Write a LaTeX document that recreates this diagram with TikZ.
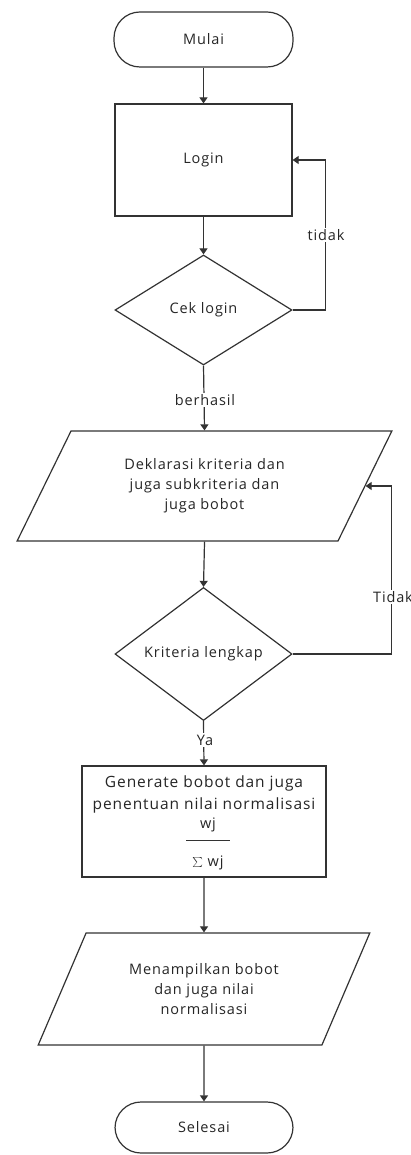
\documentclass[tikz,border=0pt]{standalone}
\usepackage{fontspec}
\setmainfont[LetterSpace=6]{Open Sans}
\usetikzlibrary{shapes.geometric,arrows.meta}
\definecolor{ln}{HTML}{333333}
\definecolor{tx}{HTML}{262626}
\begin{document}
\begin{tikzpicture}[x=1pt,y=-1pt,
  every node/.style={font=\fontsize{14.5}{20}\selectfont,text=tx},
  big/.style={font=\fontsize{15.5}{22}\selectfont},
  box/.style={draw=ln,line width=1.2pt,inner sep=0pt},
  term/.style={box,rounded corners=26pt},
  rectbox/.style={box},
  dia/.style={box,diamond,minimum width=177pt,minimum height=110pt},
  io/.style={box,trapezium,trapezium stretches=true,trapezium left angle=59.3,trapezium right angle=120.7,align=center},
  lbl/.style={fill=white,inner sep=1.5pt},
  arr/.style={draw=ln,line width=1.2pt,-{Triangle[width=8pt,length=6pt]}}
]
\useasboundingbox (0,0) rectangle (411,1155);
\fill[white] (0,0) rectangle (411,1155);
\node[term,minimum width=179pt,minimum height=55pt] (mulai) at (203.5,39.5) {Mulai};
\node[rectbox,minimum width=177pt,minimum height=112pt] (login) at (203.5,160) {Login};
\node[dia] (cek) at (203.5,310) {Cek login};
\node[io,minimum width=375pt,minimum height=110pt] (dekl) at (204.5,486) {Deklarasi kriteria dan\\juga subkriteria dan\\juga bobot};
\node[dia] (krit) at (203.5,654) {Kriteria lengkap};
\node[rectbox,minimum width=244pt,minimum height=111pt] (gen) at (204,821.5) {};
\node[big] (g1) at (204,783) {Generate bobot dan juga};
\node[big] (g2) at (204,805) {penentuan nilai normalisasi};
\node (g3) at (208,825) {wj};
\coordinate (fl) at (186,840);
\coordinate (fr) at (230,840);
\draw[ln,line width=0.9pt] (fl) -- (fr);
\node (g4) at (208,863) {$\sum$ wj};
\node[io,minimum width=332pt,minimum height=112pt] (tampil) at (204,989) {Menampilkan bobot\\dan juga nilai\\normalisasi};
\node[term,minimum width=178pt,minimum height=51pt] (selesai) at (204,1127.5) {Selesai};

\draw[arr] (mulai) -- (login);
\draw[arr] (login) -- (cek);
\draw[arr] (cek.east) -- ++(33,0) coordinate (c1) |- (login.east);
\node[lbl] (ltidak) at (326,235) {tidak};
\draw[arr] (cek.south) -- (dekl.north);
\node[lbl] (lberhasil) at (205,400) {berhasil};
\draw[arr] (dekl.south) -- (krit.north);
\draw[arr] (krit.east) -- ++(99,0) coordinate (k1) |- (dekl.east);
\node[lbl] (lTidak) at (393,597) {Tidak};
\draw[arr] (krit.south) -- (gen.north);
\node[lbl] (lya) at (205,740) {Ya};
\draw[arr] (gen.south) -- (tampil.north);
\draw[arr] (tampil.south) -- (selesai.north);
\end{tikzpicture}
\end{document}
